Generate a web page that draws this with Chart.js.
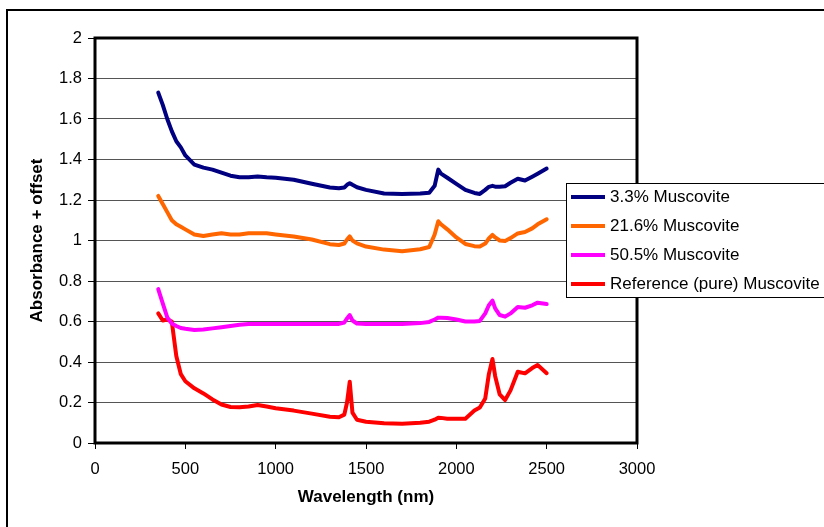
<!DOCTYPE html>
<html>
<head>
<meta charset="utf-8">
<script src="https://cdn.jsdelivr.net/npm/chart.js@4/dist/chart.umd.min.js"></script>
<style>
  html, body { margin: 0; padding: 0; background: #fff; }
  canvas { display: block; }
</style>
</head>
<body>
<canvas id="spectra" width="824" height="527"></canvas>
<script>
// golflengte in nm, gedeeld door alle vier de reeksen
const wavelength = [350, 375, 400, 425, 450, 475, 500, 550, 600, 650, 700, 750, 800, 850, 900, 950, 1000,
  1100, 1200, 1300, 1350, 1380, 1395, 1410, 1425, 1450, 1500, 1600, 1700, 1800, 1850, 1880, 1900, 1915,
  1950, 2000, 2050, 2100, 2130, 2160, 2180, 2200, 2215, 2240, 2270, 2300, 2340, 2380, 2420, 2450, 2500];

const musc33 = [1.73, 1.67, 1.60, 1.54, 1.49, 1.46, 1.42, 1.375, 1.36, 1.35, 1.335, 1.32, 1.312, 1.312, 1.316, 1.312, 1.31,
  1.30, 1.28, 1.262, 1.258, 1.262, 1.275, 1.283, 1.275, 1.263, 1.25, 1.232, 1.23, 1.232, 1.236, 1.27, 1.35, 1.33,
  1.31, 1.28, 1.25, 1.235, 1.23, 1.25, 1.265, 1.27, 1.266, 1.266, 1.268, 1.285, 1.305, 1.296, 1.315, 1.33, 1.355];

const musc216 = [1.22, 1.18, 1.14, 1.10, 1.08, 1.068, 1.055, 1.03, 1.022, 1.03, 1.036, 1.03, 1.03, 1.036, 1.036, 1.036, 1.03,
  1.02, 1.005, 0.982, 0.978, 0.985, 1.005, 1.02, 1.0, 0.986, 0.97, 0.955, 0.947, 0.957, 0.968, 1.03, 1.095, 1.08,
  1.055, 1.015, 0.983, 0.972, 0.97, 0.985, 1.01, 1.028, 1.015, 1.0, 0.998, 1.012, 1.035, 1.042, 1.06, 1.08, 1.105];

const musc505 = [0.76, 0.69, 0.62, 0.59, 0.578, 0.568, 0.564, 0.558, 0.56, 0.566, 0.572, 0.578, 0.584, 0.588, 0.588, 0.588, 0.588,
  0.588, 0.588, 0.588, 0.588, 0.595, 0.615, 0.632, 0.605, 0.59, 0.588, 0.588, 0.588, 0.592, 0.598, 0.61, 0.619, 0.619,
  0.617, 0.61, 0.6, 0.6, 0.603, 0.64, 0.68, 0.703, 0.665, 0.632, 0.624, 0.64, 0.672, 0.668, 0.68, 0.693, 0.686];

const muscRef = [0.64, 0.605, 0.61, 0.60, 0.43, 0.34, 0.305, 0.27, 0.245, 0.215, 0.19, 0.178, 0.176, 0.18, 0.188, 0.18, 0.172,
  0.16, 0.145, 0.13, 0.127, 0.14, 0.2, 0.303, 0.15, 0.115, 0.105, 0.098, 0.095, 0.1, 0.105, 0.115, 0.125, 0.124,
  0.12, 0.12, 0.12, 0.16, 0.175, 0.22, 0.34, 0.415, 0.33, 0.24, 0.212, 0.26, 0.352, 0.344, 0.37, 0.385, 0.345];

const seriesNames = ['3.3% Muscovite', '21.6% Muscovite', '50.5% Muscovite', 'Reference (pure) Muscovite'];
const seriesValues = [musc33, musc216, musc505, muscRef];
const seriesColours = ['#000080', '#FF6600', '#FF00FF', '#FF0000'];

Chart.defaults.font.family = '"Liberation Sans", Arial, sans-serif';
Chart.defaults.color = '#000';

// rand van het plotvlak, de buitenrand en de legenda zelf tekenen (Excel stijl)
const excelLook = {
  id: 'excelLook',
  afterDraw(chart) {
    const ctx = chart.ctx;
    const a = chart.chartArea;
    ctx.save();
    // buitenrand, alleen boven en links zichtbaar
    ctx.strokeStyle = '#000';
    ctx.lineWidth = 2;
    ctx.beginPath();
    ctx.moveTo(7, 530);
    ctx.lineTo(7, 10);
    ctx.lineTo(830, 10);
    ctx.stroke();
    // plotvlak
    ctx.lineWidth = 3;
    ctx.strokeRect(a.left, a.top, a.right - a.left, a.bottom - a.top);

    // legenda
    const lx = 566, ly = 183, lw = 262, lh = 114;
    ctx.fillStyle = '#fff';
    ctx.fillRect(lx, ly, lw, lh);
    ctx.lineWidth = 1;
    ctx.strokeStyle = '#000';
    ctx.strokeRect(lx + 0.5, ly + 0.5, lw, lh);
    ctx.font = '17px "Liberation Sans", Arial, sans-serif';
    ctx.textBaseline = 'middle';
    chart.data.datasets.forEach((ds, i) => {
      const y = ly + 14 + i * 29;
      ctx.strokeStyle = ds.borderColor;
      ctx.lineWidth = 4;
      ctx.beginPath();
      ctx.moveTo(lx + 5, y);
      ctx.lineTo(lx + 39, y);
      ctx.stroke();
      ctx.fillStyle = '#000';
      ctx.fillText(ds.label, lx + 44, y);
    });
    ctx.restore();
  }
};

const datasets = seriesNames.map((name, i) => ({
  label: name,
  data: wavelength.map((w, j) => ({ x: w, y: seriesValues[i][j] })),
  borderColor: seriesColours[i],
  backgroundColor: seriesColours[i],
  borderWidth: 4,
  borderCapStyle: 'round',
  borderJoinStyle: 'round',
  pointRadius: 0,
  tension: 0,
  fill: false
}));

const config = {
  type: 'line',
  data: { datasets: datasets },
  options: {
    responsive: false,
    devicePixelRatio: 1,
    animation: false,
    layout: { padding: { top: 38, right: 187, left: 0, bottom: 0 } },
    plugins: {
      legend: { display: false },
      tooltip: { enabled: false }
    },
    scales: {
      x: {
        type: 'linear',
        min: 0,
        max: 3000,
        ticks: {
          stepSize: 500,
          padding: 11,
          font: { size: 16.5 },
          callback: v => String(v)
        },
        grid: { drawOnChartArea: false, drawTicks: true, tickLength: 6, tickColor: '#000' },
        border: { display: false },
        title: {
          display: true,
          text: 'Wavelength (nm)',
          font: { size: 17, weight: 'bold' },
          padding: { top: 0, bottom: 19 }
        },
        afterFit(scale) { scale.height = 84; }
      },
      y: {
        min: 0,
        max: 2,
        ticks: {
          stepSize: 0.2,
          padding: 6,
          font: { size: 16.5 },
          callback: v => String(Number(v.toFixed(1)))
        },
        grid: { color: '#555', lineWidth: 1, tickLength: 7, tickColor: '#000' },
        border: { display: false },
        title: {
          display: true,
          text: 'Absorbance + offset',
          font: { size: 17, weight: 'bold' },
          padding: { top: 27, bottom: 0 }
        },
        afterFit(scale) { scale.width = 95; }
      }
    }
  },
  plugins: [excelLook]
};

const spectraChart = new Chart(document.getElementById('spectra'), config);
</script>
</body>
</html>
